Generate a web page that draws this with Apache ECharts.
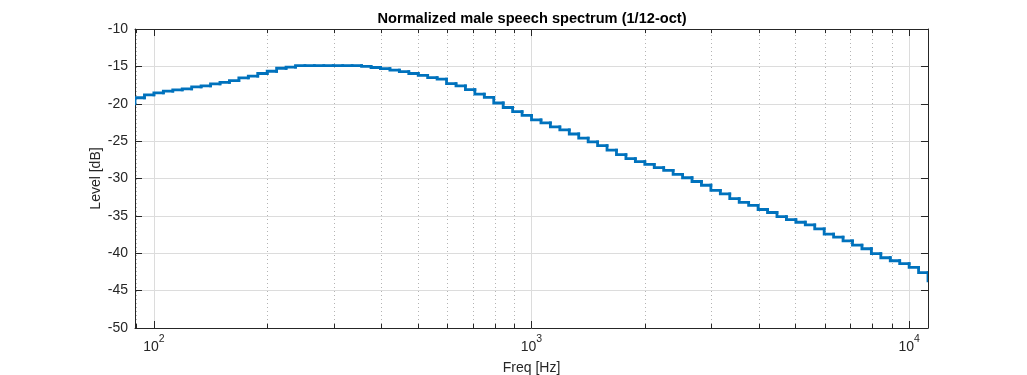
<!DOCTYPE html>
<html>
<head>
<meta charset="utf-8">
<title>Normalized male speech spectrum</title>
<script src="https://cdn.jsdelivr.net/npm/echarts@6/dist/echarts.min.js"></script>
<style>
  html, body { margin: 0; padding: 0; background: #fff; }
  #chart { width: 1027px; height: 375px; }
</style>
</head>
<body>
<div id="chart"></div>
<script>
// 1/12-octave band edges [Hz]
const bandEdges = [
  89.125, 94.406, 100, 105.93, 112.20, 118.85, 125.89, 133.35, 141.25, 149.62,
  158.49, 167.88, 177.83, 188.37, 199.53, 211.35, 223.87, 237.14, 251.19, 266.07,
  281.84, 298.54, 316.23, 334.97, 354.81, 375.84, 398.11, 421.70, 446.68, 473.15,
  501.19, 530.88, 562.34, 595.66, 630.96, 668.34, 707.95, 749.89, 794.33, 841.40,
  891.25, 944.06, 1000, 1059.3, 1122.0, 1188.5, 1258.9, 1333.5, 1412.5, 1496.2,
  1584.9, 1678.8, 1778.3, 1883.6, 1995.3, 2113.5, 2238.7, 2371.4, 2511.9, 2660.7,
  2818.4, 2985.4, 3162.3, 3349.7, 3548.1, 3758.4, 3981.1, 4217.0, 4466.8, 4731.5,
  5011.9, 5308.8, 5623.4, 5956.6, 6309.6, 6683.4, 7079.5, 7498.9, 7943.3, 8414.0,
  8912.5, 9440.6, 10000, 10593, 11220
];

// level of each band [dB]
const bandLevels = [
  -19.2, -18.8, -18.55, -18.3, -18.15, -18.0, -17.75, -17.6, -17.35, -17.15,
  -16.9, -16.55, -16.3, -15.95, -15.65, -15.25, -15.1, -14.9, -14.9, -14.9,
  -14.9, -14.9, -14.9, -14.9, -15.0, -15.15, -15.3, -15.5, -15.7, -15.95,
  -16.2, -16.5, -16.7, -17.3, -17.6, -18.1, -18.7, -19.15, -19.9, -20.5,
  -21.05, -21.55, -22.15, -22.55, -23.1, -23.5, -24.05, -24.6, -25.1, -25.6,
  -26.2, -26.8, -27.35, -27.75, -28.1, -28.55, -28.9, -29.45, -29.9, -30.4,
  -30.9, -31.6, -32.05, -32.7, -33.2, -33.6, -34.15, -34.55, -35.1, -35.5,
  -35.85, -36.2, -36.75, -37.45, -37.85, -38.35, -38.9, -39.4, -40.05, -40.6,
  -41.0, -41.4, -41.9, -42.6
];
const levelBefore = -20.0;  // band just below the plotted range
const levelAfter = -43.7;   // band just above the plotted range

const minorFreqs = [90, 200, 300, 400, 500, 600, 700, 800, 900,
  2000, 3000, 4000, 5000, 6000, 7000, 8000, 9000];

const freqMin = 89.125;
const freqMax = 11220;
const levelMin = -50;
const levelMax = -10;

const fontName = 'Liberation Sans, Arial, sans-serif';
const axisColor = '#262626';
const gridColor = '#dcdcdc';
const lineColor = '#0072BD';

// one item per stair: [x start, x end, previous level, level]
let stairData = [];
bandLevels.forEach((v, i) => {
  const prev = i === 0 ? levelBefore : bandLevels[i - 1];
  stairData.push([bandEdges[i], bandEdges[i + 1], prev, v]);
});
const lastEdge = bandEdges[bandEdges.length - 1];
stairData.push([lastEdge, lastEdge, bandLevels[bandLevels.length - 1], levelAfter]);

// dotted minor grid lines + small minor ticks on bottom and top
let minorLines = [];
minorFreqs.forEach(f => {
  minorLines.push([{ coord: [f, levelMin] }, { coord: [f, levelMax] }]);
});
let minorTicks = [];
minorFreqs.forEach(f => {
  minorTicks.push([{ coord: [f, levelMin] }, { coord: [f, levelMin + 0.55] }]);
  minorTicks.push([{ coord: [f, levelMax] }, { coord: [f, levelMax - 0.55] }]);
});

// stairs drawn as separate riser+tread pieces, so the small 1px risers are kept
function renderStair(params, api) {
  const p0 = api.coord([api.value(0), api.value(2)]);
  const p1 = api.coord([api.value(0), api.value(3)]);
  const p2 = api.coord([api.value(1), api.value(3)]);
  return {
    type: 'polyline',
    shape: { points: [p0, p1, p2] },
    style: { stroke: lineColor, lineWidth: 2.8, fill: null, lineCap: 'square', lineJoin: 'miter' }
  };
}

const chart = echarts.init(document.getElementById('chart'), null, { renderer: 'canvas' });

const option = {
  backgroundColor: '#ffffff',
  animation: false,
  textStyle: { fontFamily: fontName },
  title: {
    text: 'Normalized male speech spectrum (1/12-oct)',
    left: 527,
    textAlign: 'center',
    top: 6,
    textStyle: { fontSize: 14.6, fontWeight: 'bold', color: '#000', fontFamily: fontName }
  },
  grid: { left: 135, top: 29, width: 793, height: 299, containLabel: false, outerBoundsMode: 'none' },
  xAxis: [
    {
      type: 'log',
      logBase: 10,
      min: freqMin,
      max: freqMax,
      name: 'Freq [Hz]',
      nameLocation: 'middle',
      nameGap: 33,
      nameMoveOverlap: false,
      nameTextStyle: { fontSize: 14, color: axisColor, fontFamily: fontName },
      axisLine: { show: true, onZero: false, lineStyle: { color: axisColor, width: 1 } },
      axisTick: { show: true, inside: true, length: 7, lineStyle: { color: axisColor } },
      axisLabel: {
        show: true,
        margin: 6,
        showMinLabel: false,
        showMaxLabel: false,
        color: axisColor,
        formatter: v => '{b|10}{s|' + Math.round(Math.log10(v)) + '}',
        rich: {
          b: { fontSize: 14, color: axisColor, lineHeight: 20, verticalAlign: 'bottom', fontFamily: fontName },
          s: { fontSize: 10.5, color: axisColor, lineHeight: 20, verticalAlign: 'top', fontFamily: fontName }
        }
      },
      splitLine: { show: true, lineStyle: { color: gridColor, width: 1 } }
    },
    {
      type: 'log',
      logBase: 10,
      position: 'top',
      min: freqMin,
      max: freqMax,
      axisLine: { show: true, onZero: false, lineStyle: { color: axisColor, width: 1 } },
      axisTick: { show: true, inside: true, length: 7, lineStyle: { color: axisColor } },
      axisLabel: { show: false },
      splitLine: { show: false }
    }
  ],
  yAxis: [
    {
      type: 'value',
      min: levelMin,
      max: levelMax,
      interval: 5,
      name: 'Level [dB]',
      nameLocation: 'middle',
      nameGap: 32,
      nameMoveOverlap: false,
      nameTextStyle: { fontSize: 14, color: axisColor, fontFamily: fontName },
      axisLine: { show: true, onZero: false, lineStyle: { color: axisColor, width: 1 } },
      axisTick: { show: true, inside: true, length: 7, lineStyle: { color: axisColor } },
      axisLabel: { show: true, margin: 7, fontSize: 14, color: axisColor, fontFamily: fontName },
      splitLine: { show: true, lineStyle: { color: gridColor, width: 1 } }
    },
    {
      type: 'value',
      position: 'right',
      min: levelMin,
      max: levelMax,
      interval: 5,
      axisLine: { show: true, onZero: false, lineStyle: { color: axisColor, width: 1 } },
      axisTick: { show: true, inside: true, length: 7, lineStyle: { color: axisColor } },
      axisLabel: { show: false },
      splitLine: { show: false }
    }
  ],
  series: [
    {
      name: 'grid-minor',
      type: 'line',
      data: [],
      silent: true,
      markLine: {
        silent: true,
        symbol: ['none', 'none'],
        label: { show: false },
        lineStyle: { color: '#b4b4b4', type: [1, 3], width: 1 },
        data: minorLines
      }
    },
    {
      name: 'ticks-minor',
      type: 'line',
      data: [],
      silent: true,
      markLine: {
        silent: true,
        symbol: ['none', 'none'],
        label: { show: false },
        lineStyle: { color: axisColor, type: 'solid', width: 1 },
        data: minorTicks
      }
    },
    {
      name: 'Level',
      type: 'custom',
      renderItem: renderStair,
      data: stairData,
      encode: { x: [0, 1], y: [2, 3] },
      clip: true,
      silent: true,
      z: 5
    }
  ]
};

chart.setOption(option);
</script>
</body>
</html>
